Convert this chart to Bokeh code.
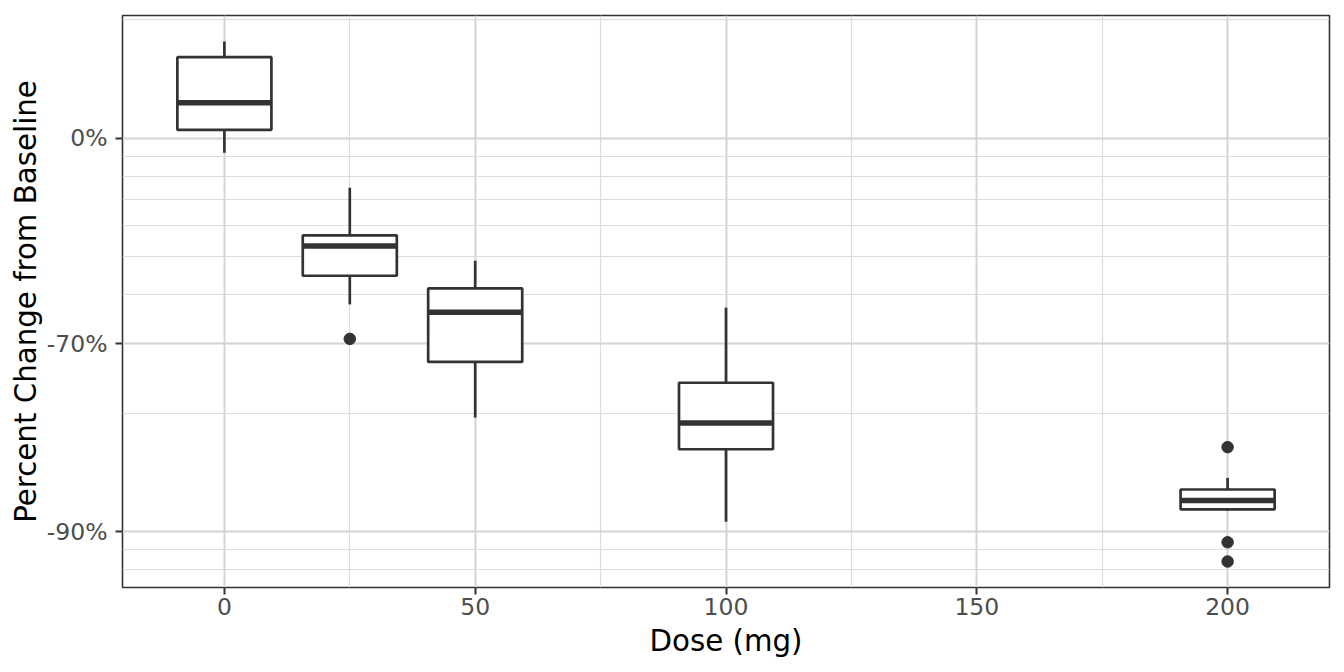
import numpy as np
from bokeh.plotting import figure
from bokeh.models import Range1d, FixedTicker, CustomJSTickFormatter, ColumnDataSource
from bokeh.transform import dodge
from bokeh.embed import file_html
from bokeh.resources import INLINE

# ---- data (percent change from baseline) ----
dose = [0, 25, 50, 100, 200]
whisker_hi = [76.0, -25.2, -51.2, -62.9, -86.3]
q3 = [60.6, -43.4, -58.5, -76.1, -87.2]
median = [23.0, -46.8, -63.9, -81.1, -88.0]
q1 = [5.0, -55.3, -73.0, -83.8, -88.6]
whisker_lo = [-8.2, -62.2, -80.5, -89.4, -88.7]
outlier_dose = [25, 200, 200, 200]
outlier_pct = [-69.1, -83.6, -90.6, -91.6]

x_major = [0, 50, 100, 150, 200]
x_minor = [25, 75, 125, 175]
y_major_pct = [0, -70, -90]
y_minor_pct = [100, -10, -20, -30, -40, -50, -60, -80, -91, -92]

BOX_W = 18.75


def fold(pct):
    return 1.0 + np.asarray(pct, dtype=float) / 100.0


src = ColumnDataSource(dict(
    dose=dose,
    whi=fold(whisker_hi), q3=fold(q3), med=fold(median),
    q1=fold(q1), wlo=fold(whisker_lo),
))
osrc = ColumnDataSource(dict(dose=outlier_dose, y=fold(outlier_pct)))

# ranges like ggplot (5% expansion, y in log space)
xlo = min(dose) - BOX_W / 2
xhi = max(dose) + BOX_W / 2
xe = (xhi - xlo) * 0.05
all_y = np.log(np.concatenate([fold(whisker_hi), fold(whisker_lo), fold(outlier_pct)]))
ylo, yhi = all_y.min(), all_y.max()
ye = (yhi - ylo) * 0.05

p = figure(width=1344, height=672, output_backend="svg", toolbar_location=None,
           y_axis_type="log",
           x_range=Range1d(xlo - xe, xhi + xe),
           y_range=Range1d(float(np.exp(ylo - ye)), float(np.exp(yhi + ye))),
           min_border_left=122, min_border_right=15, min_border_top=15, min_border_bottom=85)
p.background_fill_color = "white"
p.border_fill_color = "white"
p.outline_line_color = "#333333"
p.outline_line_width = 1.6

dark = "#333333"

# whiskers
p.segment(x0="dose", x1="dose", y0="q3", y1="whi", source=src, line_color=dark, line_width=2.7)
p.segment(x0="dose", x1="dose", y0="q1", y1="wlo", source=src, line_color=dark, line_width=2.7)
# boxes
p.vbar(x="dose", width=BOX_W, top="q3", bottom="q1", source=src,
       fill_color="white", line_color=dark, line_width=2.7)
# medians
p.segment(x0=dodge("dose", -BOX_W / 2), x1=dodge("dose", BOX_W / 2), y0="med", y1="med",
          source=src, line_color=dark, line_width=5.5, line_cap="butt")
# outliers
p.scatter(x="dose", y="y", source=osrc, size=11.5, fill_color=dark, line_color=dark)

xt = FixedTicker(ticks=x_major, minor_ticks=x_minor)
yt = FixedTicker(ticks=list(fold(y_major_pct)), minor_ticks=list(fold(y_minor_pct)))
p.xaxis.ticker = xt
p.xgrid.ticker = xt
p.yaxis.ticker = yt
p.ygrid.ticker = yt
p.yaxis.formatter = CustomJSTickFormatter(code="return Math.round((tick - 1) * 100) + '%';")

for g in (p.xgrid, p.ygrid):
    g.grid_line_color = "#D4D4D4"
    g.grid_line_width = 2
    g.minor_grid_line_color = "#DCDCDC"
    g.minor_grid_line_width = 1.2

for ax in (p.xaxis, p.yaxis):
    ax.axis_line_color = None
    ax.major_tick_line_color = dark
    ax.major_tick_line_width = 2
    ax.major_tick_out = 7
    ax.major_tick_in = 0
    ax.minor_tick_out = 0
    ax.minor_tick_in = 0
    ax.major_label_text_font = "DejaVu Sans"
    ax.major_label_text_font_size = "23.5px"
    ax.major_label_text_color = "#4D4D4D"
    ax.axis_label_text_font = "DejaVu Sans"
    ax.axis_label_text_font_size = "29.3px"
    ax.axis_label_text_font_style = "normal"
    ax.axis_label_text_color = "black"

p.xaxis.axis_label = "Dose (mg)"
p.yaxis.axis_label = "Percent Change from Baseline"
p.xaxis.major_label_standoff = 3
p.xaxis.axis_label_standoff = 6
p.yaxis.major_label_standoff = 8
p.yaxis.axis_label_standoff = 1

open("out.html", "w").write(file_html(p, INLINE))
